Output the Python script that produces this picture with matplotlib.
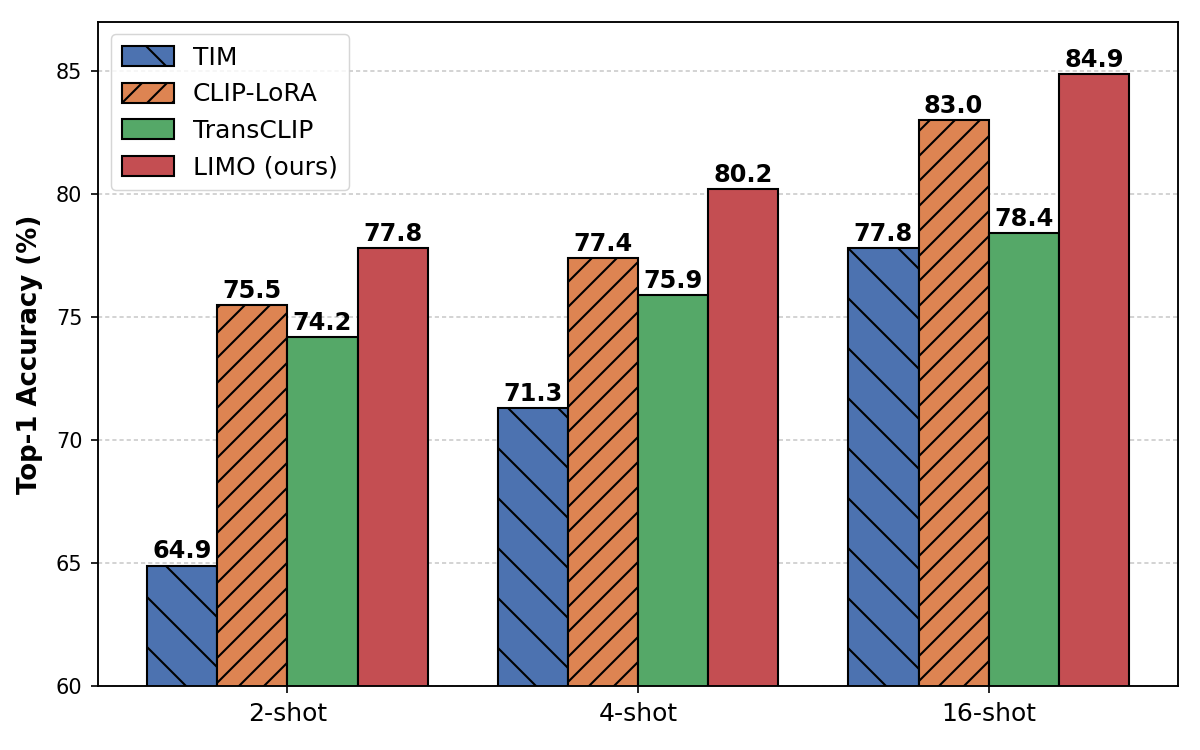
import matplotlib.pyplot as plt
import numpy as np

plt.rcParams['hatch.linewidth'] = 1.0
plt.rcParams['font.family'] = 'DejaVu Sans'

shots = ['2-shot', '4-shot', '16-shot']
methods = ['TIM', 'CLIP-LoRA', 'TransCLIP', 'LIMO (ours)']
tim = [64.9, 71.3, 77.8]
clip_lora = [75.5, 77.4, 83.0]
transclip = [74.2, 75.9, 78.4]
limo = [77.8, 80.2, 84.9]

values = [tim, clip_lora, transclip, limo]
colors = ['#4C72B0', '#DD8452', '#55A868', '#C44E52']
hatches = ['\\', '//', '', '']

fig, ax = plt.subplots(figsize=(8, 5), dpi=150)
fig.subplots_adjust(left=0.0817, right=0.9817, bottom=0.0853, top=0.9707)

x = np.arange(len(shots))
width = 0.2
for i, (name, vals) in enumerate(zip(methods, values)):
    bars = ax.bar(x + (i - 1.5) * width, vals, width, label=name,
                  color=colors[i], edgecolor='black', linewidth=1.0,
                  hatch=hatches[i])
    ax.bar_label(bars, fmt='%.1f', padding=1, fontsize=11.5, fontweight='bold')

ax.set_ylim(60, 87)
ax.set_xticks(x)
ax.set_xticklabels(shots, fontsize=12)
ax.tick_params(axis='y', labelsize=10)
ax.tick_params(length=3.5, width=0.8, pad=4)
ax.set_ylabel('Top-1 Accuracy (%)', fontsize=12.5, fontweight='bold', labelpad=6)

ax.set_axisbelow(True)
ax.yaxis.grid(True, linestyle='--', linewidth=0.8, color='#cccccc', dashes=(2.5, 1.8))

for s in ax.spines.values():
    s.set_linewidth(0.9)

leg = ax.legend(loc='upper left', fontsize=12, handlelength=2.1, handleheight=0.85,
                borderpad=0.45, labelspacing=0.5, handletextpad=0.75)
leg.get_frame().set_linewidth(0.7)
leg.get_frame().set_edgecolor('#cccccc')
for h in leg.legend_handles:
    h.set_linewidth(1.0)

fig.savefig('out.png', dpi=150)
